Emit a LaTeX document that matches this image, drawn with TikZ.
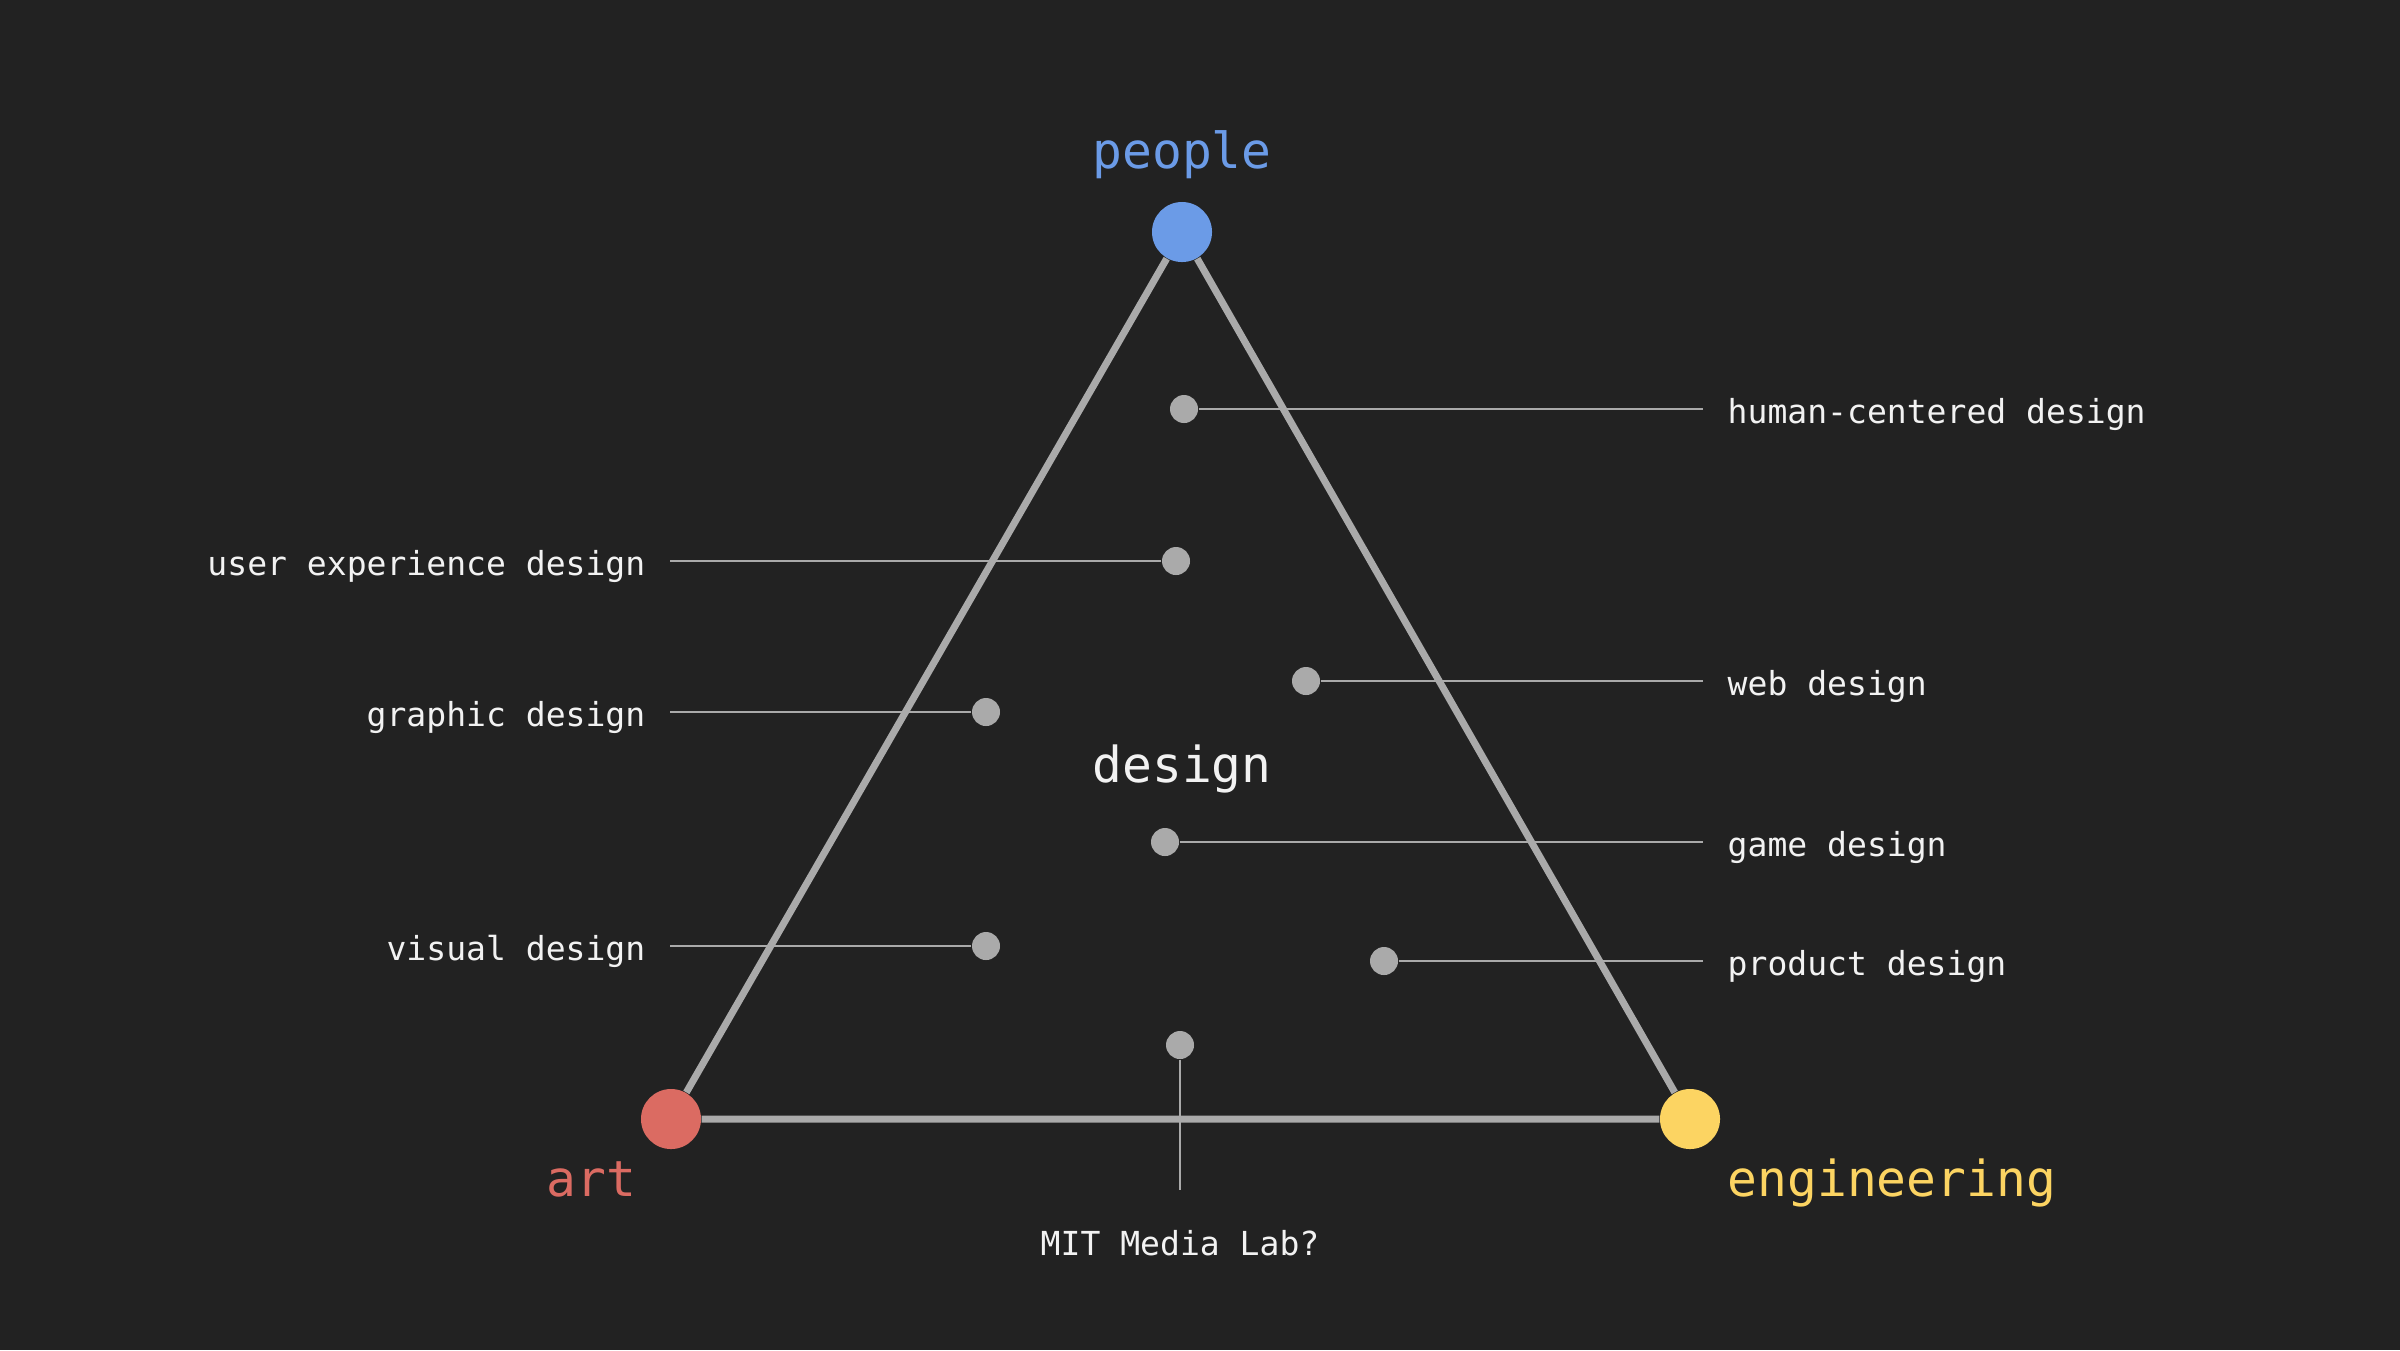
\documentclass[tikz,border=0pt]{standalone}
\usepackage{fontspec}
\setmonofont{DejaVu Sans Mono}

\definecolor{bgdark}{HTML}{222222}
\definecolor{peopleblue}{HTML}{6B9BE7}
\definecolor{artred}{HTML}{DB6B62}
\definecolor{enggold}{HTML}{FCD462}
\definecolor{linegray}{HTML}{AAAAAA}
\definecolor{textwhite}{HTML}{F2F2F2}

\begin{document}
\begin{tikzpicture}[x=0.01cm,y=-0.01cm,
  corner/.style={circle,fill=#1,minimum size=0.6cm,inner sep=0},
  spot/.style={circle,fill=linegray,minimum size=0.28cm,inner sep=0},
  tag/.style={text=textwhite,font=\ttfamily\fontsize{9.4}{11}\selectfont,inner xsep=0.24cm,inner ysep=0},
  big/.style={font=\ttfamily\fontsize{14.1}{17}\selectfont,inner sep=0},
  side/.style={linegray,line width=2pt},
  leader/.style={linegray,line width=0.6pt}]

  \fill[bgdark] (0,0) rectangle (2400,1350);
  \useasboundingbox (0,0) rectangle (2400,1350);

  % corners of the triangle
  \node[corner=peopleblue] (people) at (1182,232) {};
  \node[corner=artred] (art) at (671,1119) {};
  \node[corner=enggold] (eng) at (1690,1119) {};

  \node[big,text=peopleblue,anchor=base] (peoplelbl) at (1182,168) {people};
  \node[big,text=artred,anchor=base east] (artlbl) at (637,1196) {art};
  \node[big,text=enggold,anchor=base west] (englbl) at (1727,1196) {engineering};
  \node[big,text=textwhite,anchor=base] (designlbl) at (1182,782) {design};

  \draw[side] (people) -- (art) (art) -- (eng) (eng) -- (people);

  % fields on the right
  \foreach \name/\x/\y/\txt in {hcd/1184/409/human-centered design, web/1306/681/web design,
      game/1165/842/game design, prod/1384/961/product design} {
    \node[spot] (\name) at (\x,\y) {};
    \node[tag,anchor=base west] (lbl\name) at (1703,{\y+14}) {\txt};
    \draw[leader] (\name) -- (\name -| lbl\name.west);
  }

  % fields on the left
  \foreach \name/\x/\y/\txt in {ux/1176/561/user experience design, graphic/986/712/graphic design,
      visual/986/946/visual design} {
    \node[spot] (\name) at (\x,\y) {};
    \node[tag,anchor=base east] (lbl\name) at (670,{\y+14}) {\txt};
    \draw[leader] (\name) -- (\name -| lbl\name.east);
  }

  \node[spot] (mit) at (1180,1045) {};
  \node[tag,anchor=base,inner ysep=0.39cm] (lblmit) at (1180,1255) {MIT Media Lab?};
  \draw[leader] (mit) -- (lblmit.north);
\end{tikzpicture}
\end{document}
